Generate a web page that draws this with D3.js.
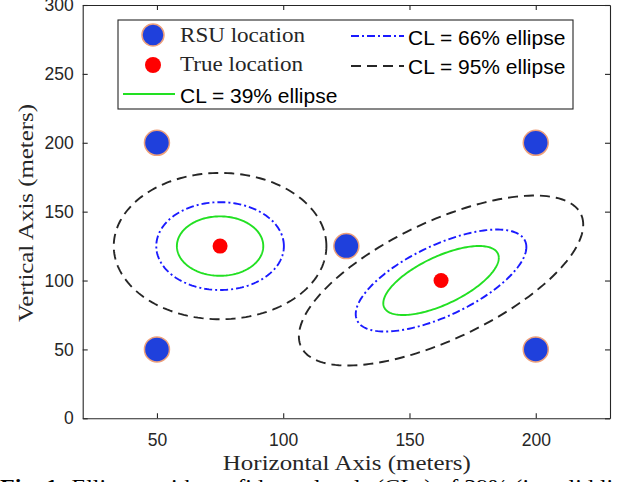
<!DOCTYPE html>
<html><head><meta charset="utf-8">
<script src="https://cdn.jsdelivr.net/npm/d3@7"></script>
<style>body{margin:0;background:#fff} svg{display:block}</style>
</head><body>
<svg id="c" width="618" height="482"></svg>
<script>
// ---- data ----
const xTicks = [50, 100, 150, 200];
const yTicks = [0, 50, 100, 150, 200, 250, 300];
const xDomain = [20.6, 229.4];
const yDomain = [0, 300];
const rsuX = [50, 200, 125, 50, 200];
const rsuY = [200, 200, 125, 50, 50];
const trueX = [75, 162.5];
const trueY = [125, 100];
const sigmaX = [17.2, 23.0];
const sigmaY = [21.7, 25.2];
const rho = [0, 0.657];
const clLevels = [0.39, 0.66, 0.95];
const clLabels = ["CL = 39% ellipse", "CL = 66% ellipse", "CL = 95% ellipse"];
const markerLabels = ["RSU location", "True location"];
const xLabel = "Horizontal Axis (meters)";
const yLabel = "Vertical Axis (meters)";
const captionBold = "Fig. 1: ";
const captionText = "Ellipses with confidence levels (CLs) of 39% (in solid line),";

// ---- styles ----
const clColor = ["#22e022", "#1a1aff", "#262626"];
const clDash = [null, "8,3,2,3", "10,6"];
const axisColor = "#262626";
const serif = "'Liberation Serif', 'Times New Roman', serif";
const sans = "'Liberation Sans', Arial, sans-serif";

const svg = d3.select("#c");
const L = 82.7, R = 610, T = 5, B = 418.3;
const x = d3.scaleLinear().domain(xDomain).range([L, R]);
const y = d3.scaleLinear().domain(yDomain).range([B, T]);

// ---- markers ----
const rsu = rsuX.map((v, i) => ({x: v, y: rsuY[i]}));
svg.append("g").selectAll("circle").data(rsu).join("circle")
  .attr("cx", d => x(d.x)).attr("cy", d => y(d.y)).attr("r", 12.5)
  .attr("fill", "#1f40dc").attr("stroke", "#eea07a").attr("stroke-width", 1.5);
const tru = trueX.map((v, i) => ({x: v, y: trueY[i]}));
svg.append("g").selectAll("circle").data(tru).join("circle")
  .attr("cx", d => x(d.x)).attr("cy", d => y(d.y)).attr("r", 7.5)
  .attr("fill", "#ff0000");

// ---- ellipses ----
const angles = d3.range(0, 361, 2).map(a => a * Math.PI / 180);
const line = d3.line().x(d => x(d[0])).y(d => y(d[1]));
tru.forEach((c, i) => {
  clLevels.forEach((p, j) => {
    const k = Math.sqrt(-2 * Math.log(1 - p));
    const sx = sigmaX[i], sy = sigmaY[i], r = rho[i];
    const pts = angles.map(t => [
      c.x + k * sx * Math.cos(t),
      c.y + k * sy * (r * Math.cos(t) + Math.sqrt(1 - r * r) * Math.sin(t))
    ]);
    svg.append("path").attr("d", line(pts)).attr("fill", "none")
      .attr("stroke", clColor[j]).attr("stroke-width", 1.9)
      .attr("stroke-dasharray", clDash[j]);
  });
});

// ---- axes ----
function styleAxis(g) {
  g.selectAll("path,line").attr("stroke", axisColor).attr("stroke-width", 1.1);
  g.selectAll("text").attr("fill", axisColor).attr("font-family", sans).attr("font-size", 17.5);
}
svg.append("g").attr("transform", `translate(0,${B})`)
  .call(d3.axisBottom(x).tickValues(xTicks).tickSize(-5).tickSizeOuter(0).tickPadding(15))
  .call(styleAxis);
svg.append("g").attr("transform", `translate(0,${T})`)
  .call(d3.axisTop(x).tickValues(xTicks).tickSize(-5).tickSizeOuter(0).tickFormat(""))
  .call(styleAxis);
svg.append("g").attr("transform", `translate(${L},0)`)
  .call(d3.axisLeft(y).tickValues(yTicks).tickSize(-5).tickSizeOuter(0).tickPadding(9))
  .call(styleAxis);
svg.append("g").attr("transform", `translate(${R},0)`)
  .call(d3.axisRight(y).tickValues(yTicks).tickSize(-5).tickSizeOuter(0).tickFormat(""))
  .call(styleAxis);

// axis labels
svg.append("text").attr("x", (L + R) / 2 + 0.5).attr("y", 470)
  .attr("text-anchor", "middle").attr("font-family", serif).attr("font-size", 21)
  .attr("fill", axisColor).attr("textLength", 248).attr("lengthAdjust", "spacingAndGlyphs")
  .text(xLabel);
svg.append("text").attr("transform", "translate(33,213) rotate(-90)")
  .attr("text-anchor", "middle").attr("font-family", serif).attr("font-size", 21)
  .attr("fill", axisColor).attr("textLength", 218).attr("lengthAdjust", "spacingAndGlyphs")
  .text(yLabel);

// ---- legend ----
const lg = svg.append("g");
lg.append("rect").attr("x", 118).attr("y", 20).attr("width", 455).attr("height", 89)
  .attr("fill", "#fff").attr("stroke", axisColor).attr("stroke-width", 1.1);
lg.append("circle").attr("cx", 153).attr("cy", 35).attr("r", 11)
  .attr("fill", "#1f40dc").attr("stroke", "#eea07a").attr("stroke-width", 1.5);
lg.append("circle").attr("cx", 153).attr("cy", 65).attr("r", 8).attr("fill", "#ff0000");
[[42, 125], [71, 123]].forEach((v, i) => {
  lg.append("text").attr("x", 180).attr("y", v[0]).attr("font-family", serif)
    .attr("font-size", 21).attr("fill", axisColor)
    .attr("textLength", v[1]).attr("lengthAdjust", "spacingAndGlyphs")
    .text(markerLabels[i]);
});
const legLines = [
  {x1: 123, x2: 175, ly: 94, tx: 180, ty: 103},
  {x1: 351, x2: 404, ly: 36, tx: 408, ty: 45},
  {x1: 351, x2: 404, ly: 66, tx: 408, ty: 74}
];
legLines.forEach((s, j) => {
  lg.append("line").attr("x1", s.x1).attr("x2", s.x2).attr("y1", s.ly).attr("y2", s.ly)
    .attr("stroke", clColor[j]).attr("stroke-width", 1.9).attr("stroke-dasharray", clDash[j]);
  lg.append("text").attr("x", s.tx).attr("y", s.ty).attr("font-family", sans)
    .attr("font-size", 21).attr("fill", "#000").text(clLabels[j]);
});

// ---- caption (cut off at bottom edge, as in the reference) ----
const cap = svg.append("text").attr("x", 0).attr("y", 494)
  .attr("font-family", serif).attr("font-size", 22).attr("fill", "#000")
  .attr("textLength", 650).attr("lengthAdjust", "spacingAndGlyphs");
cap.append("tspan").attr("font-weight", "bold").text(captionBold);
cap.append("tspan").text(captionText);
</script>
</body></html>
